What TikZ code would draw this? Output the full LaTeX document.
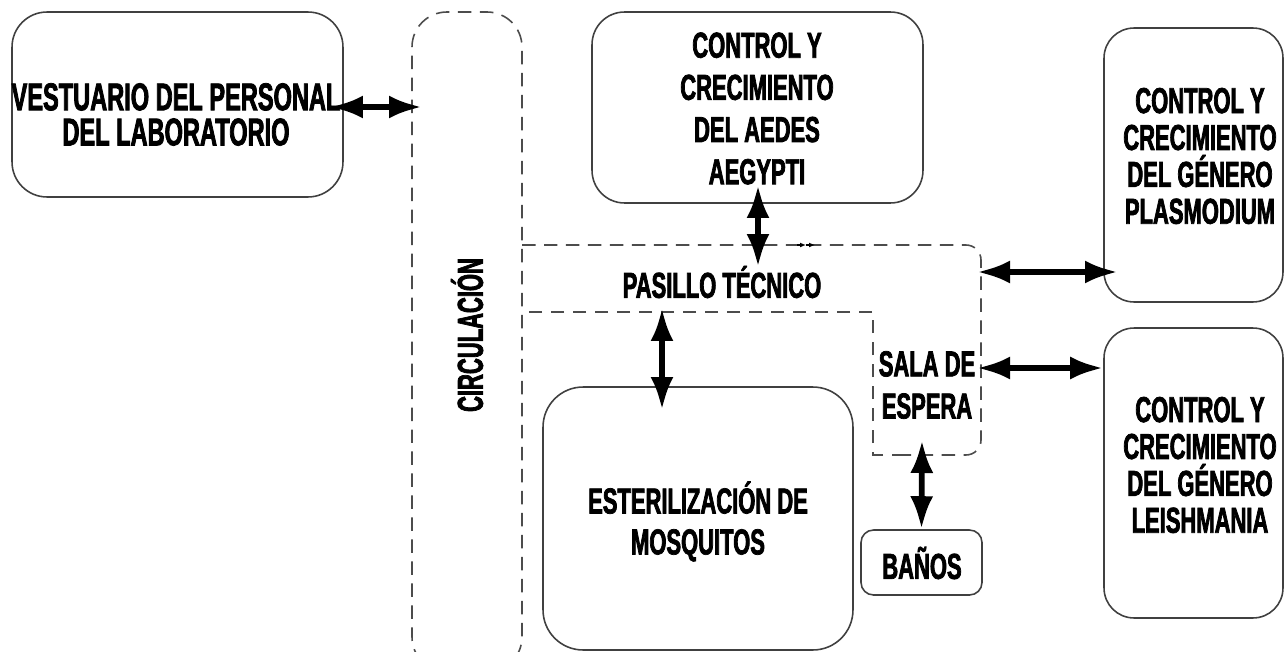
\documentclass[tikz,border=0pt]{standalone}
\usepackage{fontspec}
\newfontfamily\boxfont{Liberation Sans Bold}[FakeStretch=0.61,FakeBold=2]
\usetikzlibrary{arrows.meta}

\begin{document}
\begin{tikzpicture}
  [x=0.02cm, y=-0.02cm,
   room/.style={draw=black!75, line width=0.9pt, rounded corners=0.65cm, inner sep=0pt},
   area/.style={draw=black!70, line width=0.9pt, dash pattern=on 0.27cm off 0.17cm},
   txt/.style={font=\boxfont\fontsize{20.5}{24}\selectfont, align=center, inner sep=0pt},
   link/.style={{Latex[length=0.66cm,width=0.46cm]}-{Latex[length=0.66cm,width=0.46cm]}, line width=3.3pt}]

  \useasboundingbox (0,0) rectangle (1285,652);

  % rooms
  \node[room, rounded corners=0.7cm, minimum width=6.62cm, minimum height=3.7cm] (vest) at (177.5,104.5) {};
  \node[room, minimum width=6.62cm, minimum height=3.82cm] (aedes) at (757.5,107.5) {};
  \node[room, rounded corners=0.6cm, minimum width=3.58cm, minimum height=5.48cm] (plas) at (1193.5,165) {};
  \node[room, rounded corners=0.6cm, minimum width=3.58cm, minimum height=5.8cm] (leish) at (1193.5,473) {};
  \node[room, rounded corners=0.8cm, minimum width=6.2cm, minimum height=5.26cm] (ester) at (698,518.5) {};
  \node[room, rounded corners=0.25cm, minimum width=2.42cm, minimum height=1.3cm] (banos) at (921.5,562.5) {};

  % circulation and technical corridor
  \draw[area, rounded corners=0.7cm] (467,672) -- (412,672) -- (412,12) -- (522,12) -- (522,672) -- cycle;
  \draw[area, rounded corners=0.3cm] (522,245) -- (981,245) -- (981,455) -- (905,455);
  \draw[area] (905,455) -- (873,455) -- (873,312) -- (522,312);
  \draw[-{Latex[length=0.12cm,width=0.1cm]}, line width=0.7pt] (797,245) -- (806,245);
  \draw[-{Latex[length=0.12cm,width=0.1cm]}, line width=0.7pt] (806,245) -- (815,245);

  % labels
  \node[txt, font=\boxfont\fontsize{22}{20}\selectfont] (vest-t) at (176,114.5) {VESTUARIO DEL PERSONAL\\DEL LABORATORIO};
  \node[txt] (aedes-t) at (757,108.5) {CONTROL Y\\CRECIMIENTO\\DEL AEDES\\AEGYPTI};
  \node[txt, font=\boxfont\fontsize{20.5}{21}\selectfont] (plas-t) at (1200,156) {CONTROL Y\\CRECIMIENTO\\DEL GÉNERO\\PLASMODIUM};
  \node[txt, font=\boxfont\fontsize{20.5}{21}\selectfont] (leish-t) at (1200,465) {CONTROL Y\\CRECIMIENTO\\DEL GÉNERO\\LEISHMANIA};
  \node[txt, font=\boxfont\fontsize{20.5}{23.3}\selectfont] (ester-t) at (698,521.5) {ESTERILIZACIÓN DE\\MOSQUITOS};
  \node[txt] (sala-t) at (927,385) {SALA DE\\ESPERA};
  \node[txt] (pas-t) at (722,282) {PASILLO TÉCNICO};
  \node[txt, rotate=90] (circ-t) at (467,335) {CIRCULACIÓN};
  \node[txt] (banos-t) at (922,563) {BAÑOS};

  % doors
  \coordinate (vest-e) at (330,107);
  \coordinate (circ-w) at (422,107);
  \coordinate (aedes-s) at (758,185);
  \coordinate (pas-n) at (758,267);
  \coordinate (pas-s) at (662,308);
  \coordinate (ester-n) at (662,410);
  \coordinate (sala-e1) at (977,272);
  \coordinate (plas-w) at (1118,272);
  \coordinate (sala-e2) at (977,368);
  \coordinate (sala-s) at (922,440);

  \draw[link] (vest-e) -- (circ-w);
  \draw[link] (aedes-s) -- (pas-n);
  \draw[link] (pas-s) -- (ester-n);
  \draw[link] (sala-e1) -- (plas-w);
  \draw[link] (sala-e2) -- (leish.west |- sala-e2);
  \draw[link] (sala-s) -- (banos.north);
\end{tikzpicture}
\end{document}
